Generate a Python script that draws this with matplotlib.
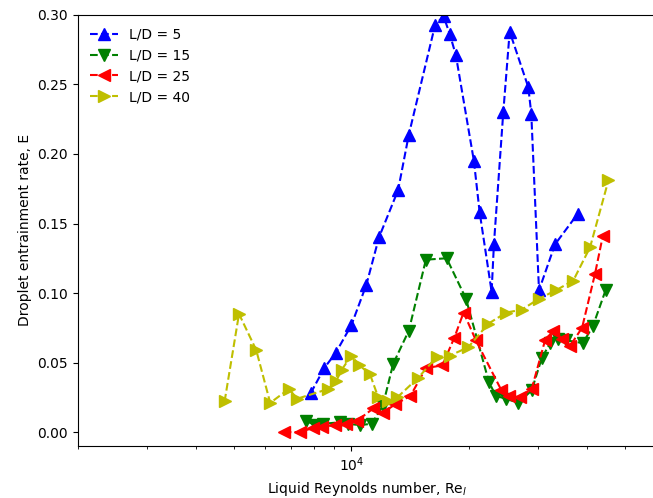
import numpy as np, matplotlib as mpl
mpl.use('Agg'); import matplotlib.pyplot as plt

# L/D = 5
re_5 = [7870, 8520, 9120, 10000, 10920, 11760, 13160, 14020, 16370, 17200, 17850, 18490,
        20560, 21270, 22820, 23130, 24440, 25380, 28320, 28820, 30160, 33140, 37880]
e_5 = [0.028, 0.046, 0.057, 0.077, 0.106, 0.140, 0.174, 0.214, 0.293, 0.299, 0.286, 0.271,
       0.195, 0.158, 0.101, 0.135, 0.230, 0.288, 0.248, 0.229, 0.102, 0.135, 0.157]
# L/D = 15
re_15 = [7670, 8060, 8460, 9330, 9780, 10500, 11270, 12030, 12780, 14020, 15500, 17510,
         19620, 22460, 23400, 24830, 26700, 28890, 30640, 32180, 33800, 35370, 39020, 41390, 44630]
e_15 = [0.008, 0.005, 0.006, 0.007, 0.006, 0.005, 0.006, 0.019, 0.049, 0.073, 0.124, 0.125,
        0.096, 0.036, 0.026, 0.024, 0.021, 0.030, 0.053, 0.064, 0.067, 0.066, 0.064, 0.076, 0.102]
# L/D = 25
re_25 = [6710, 7370, 7990, 8420, 9060, 9670, 10320, 11370, 12050, 12940, 14150, 15500, 17080,
         18330, 19350, 20800, 24180, 25270, 26970, 28890, 31250, 32810, 34540, 36210, 38860, 41950, 43900]
e_25 = [0.000, 0.000, 0.003, 0.004, 0.005, 0.006, 0.008, 0.017, 0.014, 0.020, 0.026, 0.046, 0.048,
        0.068, 0.086, 0.066, 0.030, 0.026, 0.025, 0.031, 0.066, 0.073, 0.067, 0.062, 0.075, 0.114, 0.141]
# L/D = 40
re_40 = [4740, 5160, 5710, 6200, 6920, 7270, 8730, 9150, 9450, 10000, 10470, 11140, 11710,
         12390, 13100, 14810, 16500, 17850, 19880, 22390, 24900, 27230, 30210, 33340, 36910, 40740, 45380]
e_40 = [0.022, 0.085, 0.059, 0.021, 0.031, 0.024, 0.031, 0.037, 0.045, 0.055, 0.048, 0.042, 0.025,
        0.022, 0.025, 0.039, 0.054, 0.055, 0.061, 0.078, 0.086, 0.088, 0.096, 0.102, 0.109, 0.133, 0.181]

series = [(re_5, e_5, 'b', '^', 'L/D = 5'),
          (re_15, e_15, 'g', 'v', 'L/D = 15'),
          (re_25, e_25, 'r', '<', 'L/D = 25'),
          (re_40, e_40, 'y', '>', 'L/D = 40')]

fig = plt.figure(figsize=(6.53, 4.98), dpi=100, facecolor='white')
ax = fig.add_axes([0.1194, 0.105, 0.885, 0.865])
for x, y, c, m, lab in series:
    ax.plot(x, y, '--', color=c, marker=m, markersize=8, label=lab)
ax.set_xscale('log')
ax.set_xlim(2000, 6e4)
ax.set_ylim(-0.0098, 0.30)
ax.set_yticks(np.arange(0, 0.301, 0.05))
ax.yaxis.set_major_formatter(mpl.ticker.FormatStrFormatter('%.2f'))
ax.set_xlabel('Liquid Reynolds number, Re$_l$')
ax.set_ylabel('Droplet entrainment rate, E')
ax.spines['right'].set_visible(False)  # sits just past the image edge in the original
ax.legend(loc='upper left', frameon=False)
fig.savefig('out.png', dpi=100, facecolor='white')
